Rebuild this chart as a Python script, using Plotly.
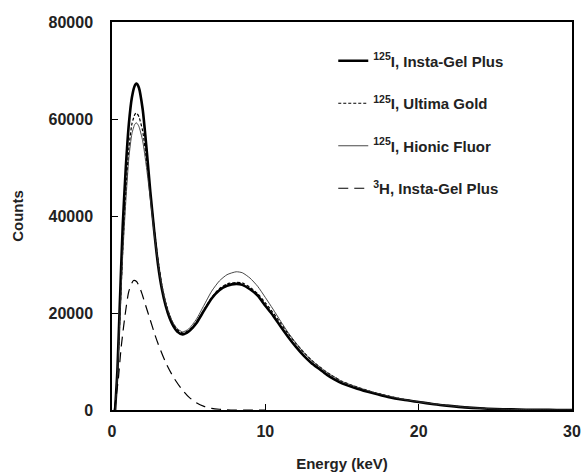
import plotly.graph_objects as go

# Energy (keV) and counts
e_i = [0.2, 0.35, 0.5, 0.7, 0.9, 1.1, 1.3, 1.5, 1.6, 1.75, 2.0, 2.25, 2.5, 2.75, 3.0, 3.25, 3.5,
       3.75, 4.0, 4.25, 4.6, 5.0, 5.5, 6.0, 6.5, 7.0, 7.5, 8.1, 8.5, 9.0, 9.5, 10.0, 10.5, 11.0,
       11.5, 12.0, 12.5, 13.0, 13.5, 14.0, 14.5, 15.0, 16, 17, 18, 19, 20, 21, 22, 23, 24, 25,
       26, 27, 28, 29, 30]

insta_gel = [0, 8000, 21000, 38000, 50000, 59000, 64500, 67000, 67300, 66500, 62000, 54000,
             45000, 37000, 30000, 25000, 21500, 19000, 17300, 16200, 15600, 16200, 17900, 20500,
             23000, 24700, 25600, 26000, 25800, 24900, 23600, 21500, 19500, 17200, 15000, 13000,
             11200, 9700, 8500, 7300, 6300, 5500, 4400, 3500, 2700, 2100, 1650, 1200, 850, 550,
             350, 200, 120, 60, 30, 10, 0]

ultima_gold = [0, 7000, 18000, 33000, 45000, 54000, 59000, 61000, 61200, 60500, 57500, 51500,
               44500, 37500, 31000, 25800, 22200, 19600, 17700, 16600, 15900, 16400, 18100, 20700,
               23200, 25000, 26000, 26300, 26200, 25300, 24000, 22100, 20100, 17900, 15700, 13700,
               11900, 10300, 9000, 7800, 6800, 5900, 4700, 3700, 2900, 2200, 1700, 1250, 900, 600,
               380, 220, 130, 70, 30, 10, 0]

hionic_fluor = [0, 7000, 18000, 32000, 43000, 52000, 57000, 59000, 59200, 58500, 55500, 50000,
                43500, 36500, 30500, 25500, 22000, 19600, 17900, 16800, 16100, 16700, 18700, 21600,
                24500, 26600, 27900, 28500, 28300, 27200, 25500, 23200, 20800, 18300, 15900, 13800,
                11900, 10300, 9000, 7800, 6800, 5900, 4700, 3700, 2900, 2200, 1700, 1250, 900, 600,
                380, 220, 130, 70, 30, 10, 0]

e_h = [0.15, 0.4, 0.6, 0.85, 1.1, 1.4, 1.6, 1.9, 2.2, 2.5, 2.8, 3.0, 3.5, 4.0, 4.5, 5.0, 5.5,
       6.0, 6.5, 7.0, 7.5, 8.0, 9.0, 10.0]
h3_insta_gel = [0, 6000, 13000, 19500, 24500, 26700, 26500, 24500, 21500, 18500, 15500, 13700,
                9800, 6800, 4500, 2700, 1500, 750, 350, 150, 50, 0, 0, 0]

x_ticks = [0, 10, 20, 30]
y_ticks = [0, 20000, 40000, 60000, 80000]

names = ["<b><sup>125</sup>I, Insta-Gel Plus</b>",
         "<b><sup>125</sup>I, Ultima Gold</b>",
         "<b><sup>125</sup>I, Hionic Fluor</b>",
         "<b><sup>3</sup>H, Insta-Gel Plus</b>"]

FONT = "Liberation Sans, Arial, sans-serif"

fig = go.Figure()
fig.add_trace(go.Scatter(x=e_i, y=insta_gel, mode="lines", name=names[0], legendgroup="a",
                         line=dict(color="black", width=2.6, shape="spline", smoothing=0.6)))
fig.add_trace(go.Scatter(x=e_i, y=ultima_gold, mode="lines", name=names[1], legendgroup="b",
                         line=dict(color="black", width=1.2, dash="3px,2px", shape="spline", smoothing=0.6)))
fig.add_trace(go.Scatter(x=e_i, y=hionic_fluor, mode="lines", name=names[2], legendgroup="c",
                         line=dict(color="#333333", width=0.9, shape="spline", smoothing=0.6)))
fig.add_trace(go.Scatter(x=e_h, y=h3_insta_gel, mode="lines", name=names[3], legendgroup="d",
                         line=dict(color="black", width=1.2, dash="10px,6px", shape="spline", smoothing=0.6)))

tick_font = dict(family=FONT, size=16, color="#222", weight="bold")
title_font = dict(family=FONT, size=15, color="#222", weight="bold")

axis_common = dict(showline=True, linecolor="black", linewidth=1.5, mirror=True,
                   ticks="inside", ticklen=6, tickwidth=1.2, tickcolor="black",
                   showgrid=False, zeroline=False, automargin=False,
                   tickfont=tick_font)

fig.update_layout(
    width=585, height=475,
    margin=dict(l=112, r=13, t=22, b=65, autoexpand=False),
    paper_bgcolor="white", plot_bgcolor="white",
    font=dict(family=FONT, color="#222"),
    xaxis=dict(range=[0, 30], tickvals=x_ticks, tickformat="d", ticklabelstandoff=6,
               title=dict(text="Energy (keV)", font=title_font, standoff=20),
               **axis_common),
    yaxis=dict(range=[0, 80000], tickvals=y_ticks, tickformat="d", ticklabelstandoff=14,
               title=dict(text="Counts", font=title_font, standoff=21),
               **axis_common),
    legend=dict(x=0.481, y=0.942, xanchor="left", yanchor="top",
                bgcolor="rgba(0,0,0,0)", borderwidth=0, tracegroupgap=20,
                font=dict(family=FONT, size=15, color="#222")),
    showlegend=True,
)

fig.write_html("out.html", config={"displayModeBar": False},
               post_script="document.body.style.margin='0';")
